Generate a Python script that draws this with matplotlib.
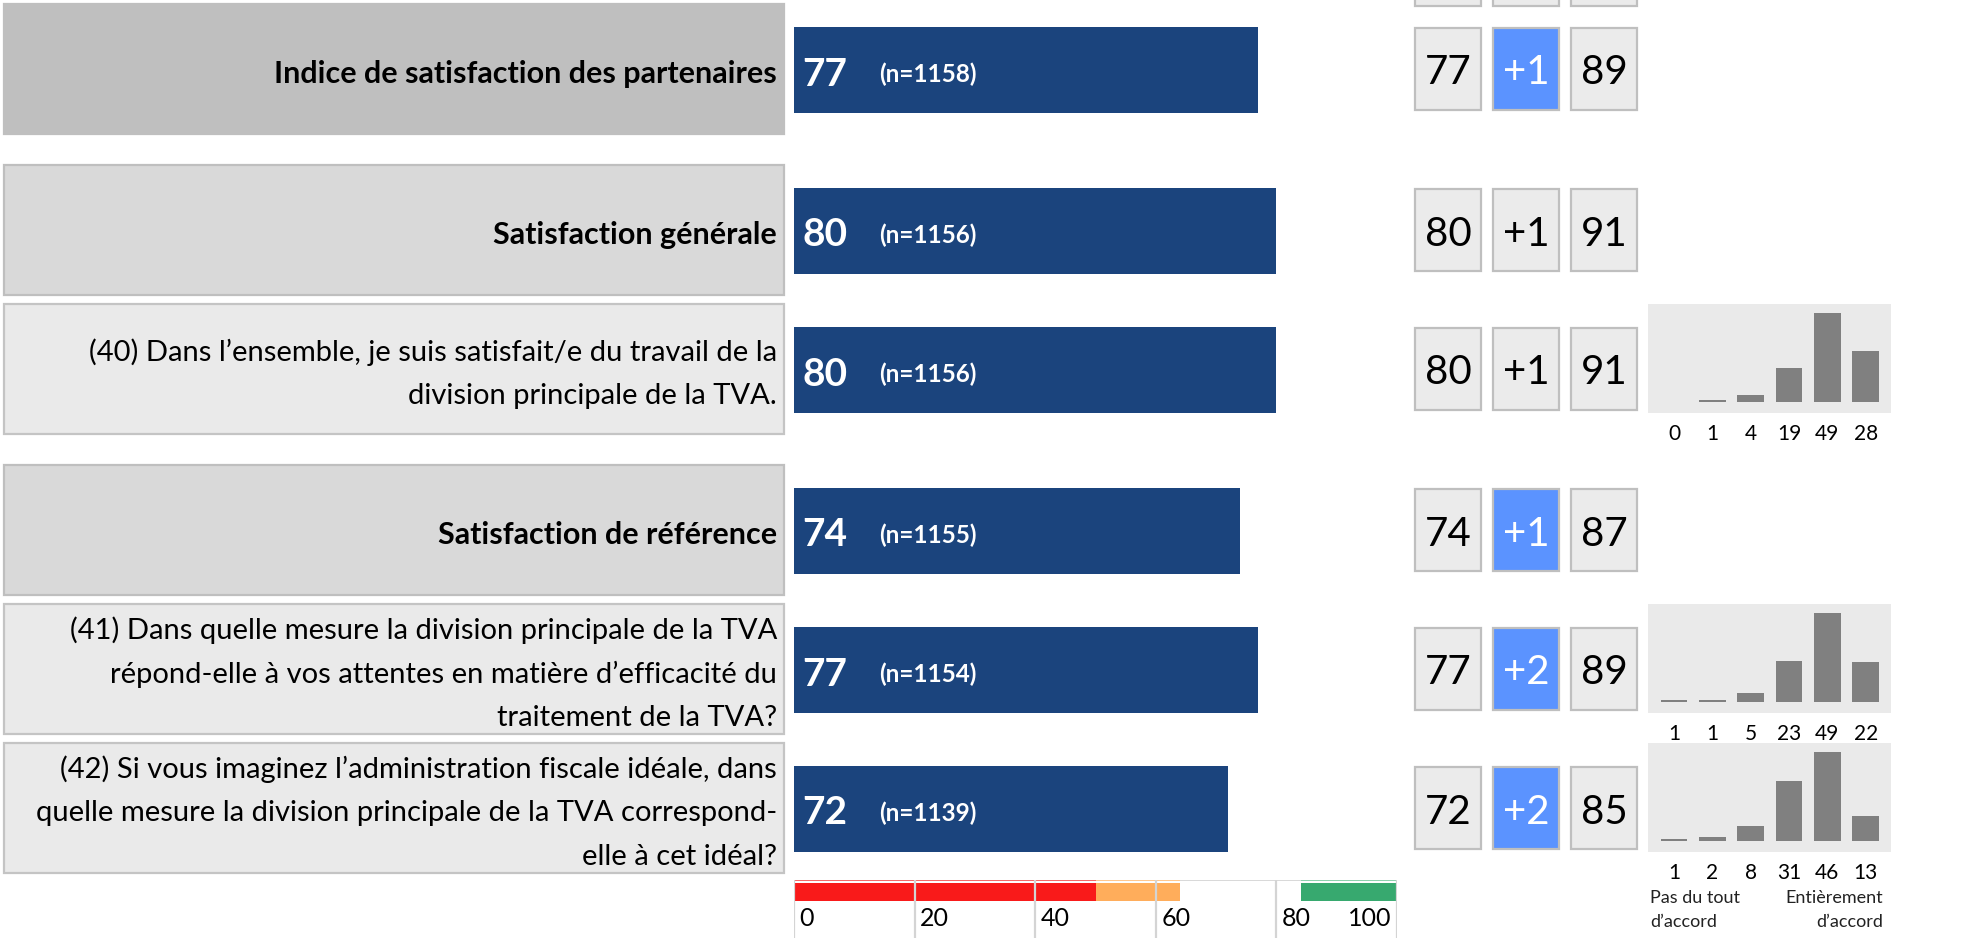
import matplotlib
matplotlib.use("Agg")
import matplotlib.pyplot as plt
from matplotlib.patches import Rectangle
from matplotlib.transforms import blended_transform_factory

plt.rcParams['font.family'] = ['Lato', 'DejaVu Sans']

# ---------------- data ----------------
labels = [
    "Indice de satisfaction des partenaires",
    "Satisfaction générale",
    "(40) Dans l’ensemble, je suis satisfait/e du travail de la\ndivision principale de la TVA.",
    "Satisfaction de référence",
    "(41) Dans quelle mesure la division principale de la TVA\nrépond-elle à vos attentes en matière d’efficacité du\ntraitement de la TVA?",
    "(42) Si vous imaginez l’administration fiscale idéale, dans\nquelle mesure la division principale de la TVA correspond-\nelle à cet idéal?",
]
kind = ['index', 'head', 'item', 'head', 'item', 'item']
scores = [77, 80, 80, 74, 77, 72]
n_resp = [1158, 1156, 1156, 1155, 1154, 1139]
prev_diff = ['+1', '+1', '+1', '+1', '+2', '+2']
diff_highlight = [True, False, False, True, True, True]
best = [89, 91, 91, 87, 89, 85]

# answer distributions (%), only for the single items
dist = {
    2: [0, 1, 4, 19, 49, 28],
    4: [1, 1, 5, 23, 49, 22],
    5: [1, 2, 8, 31, 46, 13],
}

scale_edges = [0, 50, 64, 84, 100]
scale_colors = ['#F91A1A', '#FFAD5B', 'none', '#37A96F']
scale_line = ['#F46A6A', '#FFC890', '#D9D9D9', '#8FD1AE']
scale_ticks = [0, 20, 40, 60, 80, 100]

# ---------------- layout (pixels) ----------------
W, H = 1977, 938
group = [0, 1, 1, 2, 2, 2]
row_y = [70 + i * 139 + g * 22 for i, g in enumerate(group)]
dy = 4  # text baseline nudge

box_fill = {'index': '#BFBFBF', 'head': '#D9D9D9', 'item': '#EAEAEA'}
box_edge = {'index': '#BFBFBF', 'head': '#BFBFBF', 'item': '#C4C4C4'}
bold = {'index': True, 'head': True, 'item': False}

bar_color = '#1B447D'
cell_x = [1415, 1493, 1571]
cell_w, cell_h = 66, 82

fig = plt.figure(figsize=(W / 100, H / 100), dpi=100)
ax = fig.add_axes([0, 0, 1, 1])
ax.set_xlim(0, W)
ax.set_ylim(H, 0)
ax.axis('off')


def cell(x, yc, text, highlight=False):
    fc = '#5B93FF' if highlight else '#EBEBEB'
    ax.add_patch(Rectangle((x, yc - cell_h / 2), cell_w, cell_h,
                           facecolor=fc, edgecolor='#BFBFBF', lw=1.6))
    ax.text(x + cell_w / 2, yc + dy, text, ha='center', va='center',
            fontsize=29, color='white' if highlight else 'black')


# cut-off cells from the row above
for x in cell_x:
    ax.add_patch(Rectangle((x, -80), cell_w, 86, facecolor='#EBEBEB',
                           edgecolor='#BFBFBF', lw=1.6))

for i, lab in enumerate(labels):
    y = row_y[i]
    k = kind[i]
    ax.add_patch(Rectangle((4, y - 66), 780, 130, facecolor=box_fill[k],
                           edgecolor=box_edge[k], lw=1.6))
    lines = lab.split('\n')
    n = len(lines)
    for j, line in enumerate(lines):
        ax.text(777, y + dy + (j - (n - 1) / 2) * 44, line, ha='right', va='center',
                fontsize=22 if bold[k] else 21,
                fontweight='bold' if bold[k] else 'normal', color='black')
    cell(cell_x[0], y - 1, str(scores[i]))
    cell(cell_x[1], y - 1, prev_diff[i], diff_highlight[i])
    cell(cell_x[2], y - 1, str(best[i]))

# ---------------- bars ----------------
bx = fig.add_axes([794 / W, 0, (1397 - 794) / W, 1])
bx.set_xlim(0, 100)
bx.set_ylim(H, 0)
bx.axis('off')
bx.barh(row_y, scores, height=86, color=bar_color)
for i, v in enumerate(scores):
    bx.annotate(str(v), (0, row_y[i] + dy), xytext=(6, 0), textcoords='offset points',
                ha='left', va='center', fontsize=28, fontweight='bold', color='white')
    bx.annotate('(n=%d)' % n_resp[i], (0, row_y[i] + dy), xytext=(61, 0),
                textcoords='offset points', ha='left', va='center',
                fontsize=17.5, fontweight='bold', color='white')

# colour scale under the bars
lefts = scale_edges[:-1]
widths = [b - a for a, b in zip(scale_edges[:-1], scale_edges[1:])]
bx.barh(880.5, widths, left=lefts, height=1.6, color=scale_line)
bx.barh(892, widths, left=lefts, height=18, color=scale_colors)
bx.vlines(scale_ticks, 880, 940, color='#D4D4D4', lw=1.6)
for t in scale_ticks:
    if t == 100:
        bx.annotate(str(t), (t, 919), xytext=(-4, 0), textcoords='offset points',
                    ha='right', va='center', fontsize=18)
    else:
        bx.annotate(str(t), (t, 919), xytext=(4, 0), textcoords='offset points',
                    ha='left', va='center', fontsize=18)

# ---------------- answer distributions ----------------
for i, vals in dist.items():
    top = row_y[i] - 66
    bot = row_y[i] + 43
    hh = bot - top
    hx = fig.add_axes([1648 / W, 1 - bot / H, 243 / W, hh / H])
    hx.set_facecolor('#EAEAEA')
    for s in hx.spines.values():
        s.set_visible(False)
    hx.set_xticks([])
    hx.set_yticks([])
    xs = list(range(len(vals)))
    hx.bar(xs, vals, width=0.7, color='#808080', lw=0)
    m = max(vals)
    hx.set_xlim(-0.68, 5.66)
    hx.set_ylim(-0.122 * m, 1.106 * m)
    tr = blended_transform_factory(hx.transData, hx.transAxes)
    for x, v in zip(xs, vals):
        hx.text(x, -21 / hh, str(v), transform=tr, ha='center',
                va='center', fontsize=15, clip_on=False)
    if i == 5:
        kw = dict(transform=tr, va='center', fontsize=13, color='#222222', clip_on=False)
        hx.text(-0.62, -46 / hh, 'Pas du tout', ha='left', **kw)
        hx.text(-0.62, -70 / hh, 'd’accord', ha='left', **kw)
        hx.text(5.45, -46 / hh, 'Entièrement', ha='right', **kw)
        hx.text(5.45, -70 / hh, 'd’accord', ha='right', **kw)

fig.savefig('out.png', dpi=100)
